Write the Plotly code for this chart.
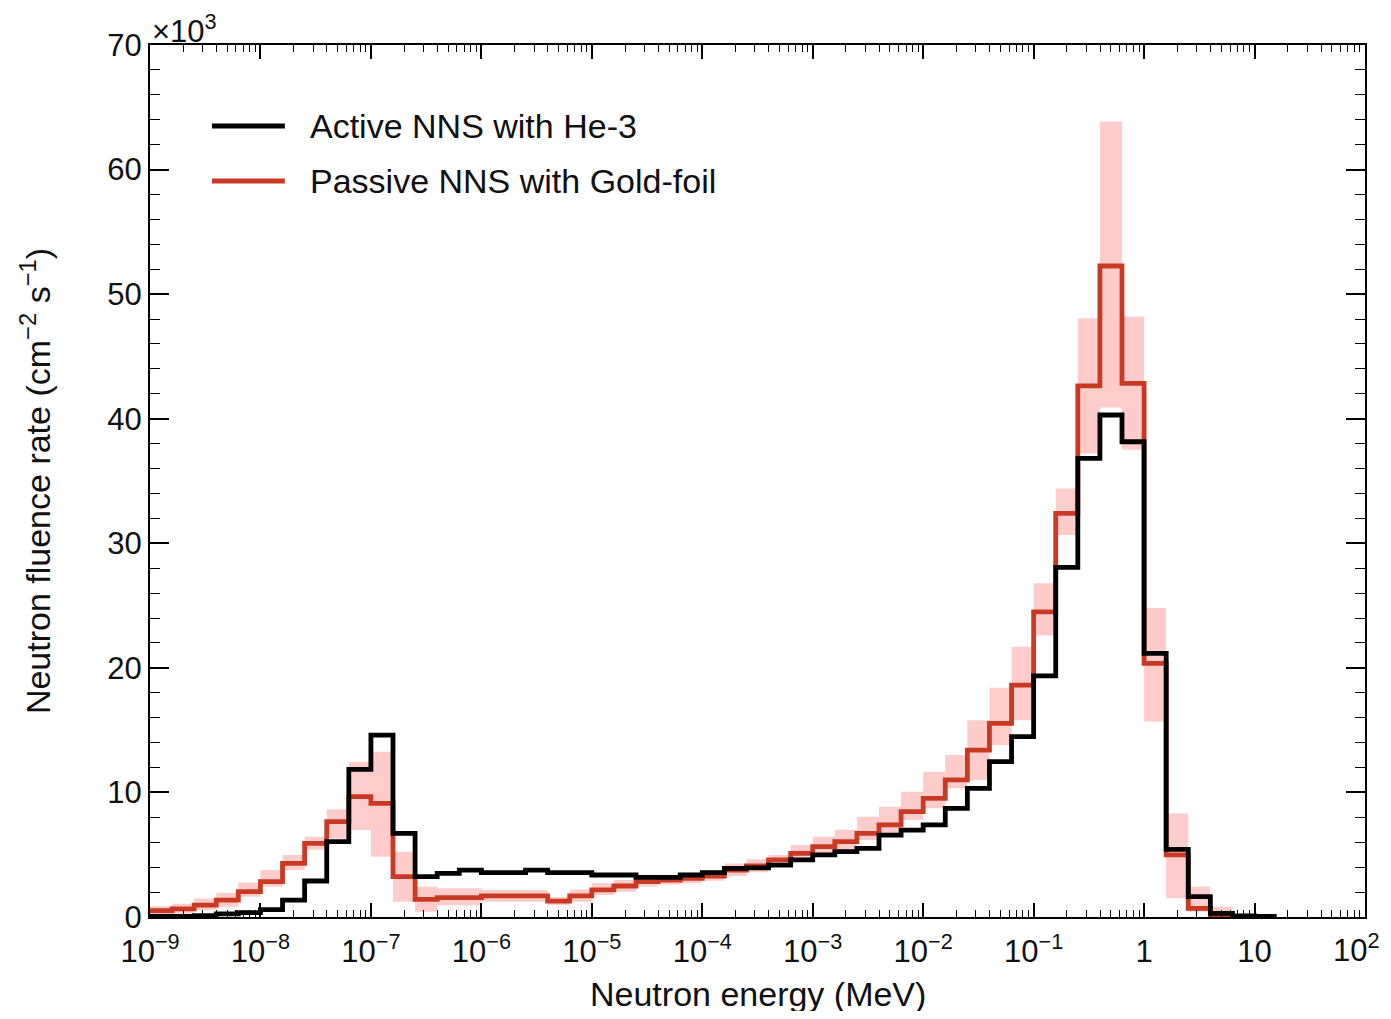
import plotly.graph_objects as go

# Bin structure: 5 bins per decade starting at 1e-9 MeV
n_edges = 52
edges = [10 ** (-9 + k / 5) for k in range(n_edges)]

# Active NNS with He-3 (x10^3 cm^-2 s^-1), 51 bins
active = [0.05, 0.05, 0.1, 0.25, 0.35, 0.6, 1.36, 2.89, 6.05, 11.85, 14.6, 6.72, 3.24,
          3.5, 3.77, 3.56, 3.56, 3.77, 3.56, 3.56, 3.37, 3.37, 3.18, 3.18, 3.37, 3.56, 3.9, 3.95,
          4.17, 4.58, 4.98, 5.24, 5.51, 6.58, 6.98, 7.39, 8.72, 10.33, 12.47, 14.48,
          19.35, 28.07, 36.82, 40.3, 38.15, 21.17, 5.43, 1.63, 0.29, 0.08, 0.05]

# Passive NNS with Gold-foil, 49 bins
passive = [0.5, 0.65, 0.96, 1.36, 2.03, 2.84, 4.31, 5.91, 7.65, 9.66, 9.12, 3.24, 1.42,
           1.55, 1.55, 1.69, 1.69, 1.69, 1.28, 1.69, 2.17, 2.49, 2.84, 2.97, 3.1, 3.29, 3.77, 4.1,
           4.58, 5.11, 5.65, 6.05, 6.72, 7.39, 8.46, 9.53, 11.0, 13.4, 15.55, 18.62,
           24.5, 32.4, 42.63, 52.26, 42.84, 20.36, 4.98, 0.7, 0.08]

passive_upper = [0.87, 1.07, 1.49, 1.95, 2.76, 3.77, 4.98, 6.45, 8.64, 12.47, 13.27, 5.24, 2.43,
                 2.3, 2.3, 2.17, 2.17, 2.17, 1.6, 2.2, 2.7, 2.97, 3.3, 3.4, 3.55, 3.75, 4.3, 4.63,
                 4.98, 5.77, 6.45, 7.0, 8.05, 8.85, 10.06, 11.67, 13.0, 15.8, 18.4, 21.7,
                 26.8, 34.4, 48.06, 63.85, 48.2, 24.8, 8.3, 2.43, 0.83]
passive_lower = [0.29, 0.29, 0.56, 0.83, 1.63, 2.43, 3.77, 5.4, 6.3, 6.98, 4.84, 1.23, 0.43,
                 0.95, 0.95, 1.23, 1.23, 1.23, 0.96, 1.23, 1.76, 2.03, 2.45, 2.6, 2.7, 2.9, 3.3, 3.6,
                 4.04, 4.58, 4.9, 5.38, 6.18, 6.72, 7.79, 8.72, 10.33, 11.0, 13.8, 15.8,
                 22.6, 30.67, 37.2, 40.9, 37.5, 15.7, 1.5, 0.43, 0.0]

x_tickvals = [1e-9, 1e-8, 1e-7, 1e-6, 1e-5, 1e-4, 1e-3, 1e-2, 1e-1, 1, 10, 100]
x_ticktext = ["10<sup>\u22129</sup>", "10<sup>\u22128</sup>", "10<sup>\u22127</sup>",
              "10<sup>\u22126</sup>", "10<sup>\u22125</sup>", "10<sup>\u22124</sup>",
              "10<sup>\u22123</sup>", "10<sup>\u22122</sup>", "10<sup>\u22121</sup>",
              "1", "10", ""]
last_x_label = "10<sup>2</sup>"
y_tickvals = [0, 10, 20, 30, 40, 50, 60, 70]

x_title = "Neutron energy (MeV)"
y_title = "Neutron fluence rate (cm<sup>\u22122</sup> s<sup>\u22121</sup>)"
legend_labels = ["Active NNS with He-3", "Passive NNS with Gold-foil"]

BLACK = "#000000"
RED = "#c93a25"
PINK = "#ffcccc"
FONT = "Liberation Sans, Arial, Helvetica, sans-serif"


def step(vals, n):
    return edges[:n + 1], list(vals) + [vals[-1]]


fig = go.Figure()

xl, yl = step(passive_lower, len(passive_lower))
xu, yu = step(passive_upper, len(passive_upper))
fig.add_trace(go.Scatter(x=xl, y=yl, mode="lines", line=dict(width=0, shape="hv", color=PINK),
                         showlegend=False, hoverinfo="skip"))
fig.add_trace(go.Scatter(x=xu, y=yu, mode="lines", line=dict(width=0, shape="hv", color=PINK),
                         fill="tonexty", fillcolor=PINK, showlegend=False, hoverinfo="skip"))

xp, yp = step(passive, len(passive))
fig.add_trace(go.Scatter(x=xp, y=yp, mode="lines", line=dict(width=4.8, shape="hv", color=RED),
                         name=legend_labels[1], showlegend=False))

xa, ya = step(active, len(active))
fig.add_trace(go.Scatter(x=xa, y=ya, mode="lines", line=dict(width=4.8, shape="hv", color=BLACK),
                         name=legend_labels[0], showlegend=False))

# Manual legend
leg_y = [0.907, 0.844]
leg_col = [BLACK, RED]
for yy, cc, lab in zip(leg_y, leg_col, legend_labels):
    fig.add_shape(type="line", xref="paper", yref="paper", x0=0.051, x1=0.111, y0=yy, y1=yy,
                  line=dict(color=cc, width=5))
    fig.add_annotation(xref="paper", yref="paper", x=0.130, y=yy, text=lab, showarrow=False,
                       xanchor="left", yanchor="middle", font=dict(size=34, color="#111111", family=FONT))

fig.add_annotation(xref="paper", yref="paper", x=0.0, y=1.0, text="\u00d710<sup>3</sup>",
                   showarrow=False, xanchor="left", yanchor="bottom", yshift=-6,
                   font=dict(size=31, color="#111111", family=FONT))

# last x tick label kept inside the page
fig.add_annotation(xref="paper", yref="paper", x=1.0, y=0.0, text=last_x_label,
                   showarrow=False, xanchor="right", yanchor="top", xshift=17, yshift=-9,
                   font=dict(size=31, color="#111111", family=FONT))

# x-axis title
fig.add_annotation(xref="paper", yref="paper", x=0.5, y=0.0, text=x_title,
                   showarrow=False, xanchor="center", yanchor="middle", yshift=-77, borderpad=0,
                   font=dict(size=34, color="#111111", family=FONT))

fig.update_layout(
    width=1375, height=1003,
    margin=dict(l=142, r=18, t=37, b=94, autoexpand=False),
    plot_bgcolor="white", paper_bgcolor="white",
    font=dict(family=FONT, size=31, color="#111111"),
    showlegend=False,
)
fig.update_xaxes(
    type="log", range=[-9, 2],
    tickvals=x_tickvals, ticktext=x_ticktext,
    ticks="inside", ticklen=14, tickwidth=1.5, tickcolor="black",
    minor=dict(ticks="inside", ticklen=7, tickwidth=1.2, tickcolor="black", dtick="D1", showgrid=False),
    showline=True, linecolor="black", linewidth=2, mirror="allticks",
    showgrid=False, zeroline=False, automargin=False,
    tickfont=dict(size=31, family=FONT),
    ticklabeloverflow="allow", ticklabelstandoff=6,
)
fig.update_yaxes(
    range=[0, 70], tickvals=y_tickvals,
    ticks="inside", ticklen=19, tickwidth=1.5, tickcolor="black",
    minor=dict(ticks="inside", ticklen=10, tickwidth=1.2, tickcolor="black", dtick=2, showgrid=False),
    showline=True, linecolor="black", linewidth=2, mirror="allticks",
    showgrid=False, zeroline=False, automargin=False,
    tickfont=dict(size=31, family=FONT),
    title=dict(text=y_title, font=dict(size=34, family=FONT), standoff=46),
)

fig.write_html("out.html")
